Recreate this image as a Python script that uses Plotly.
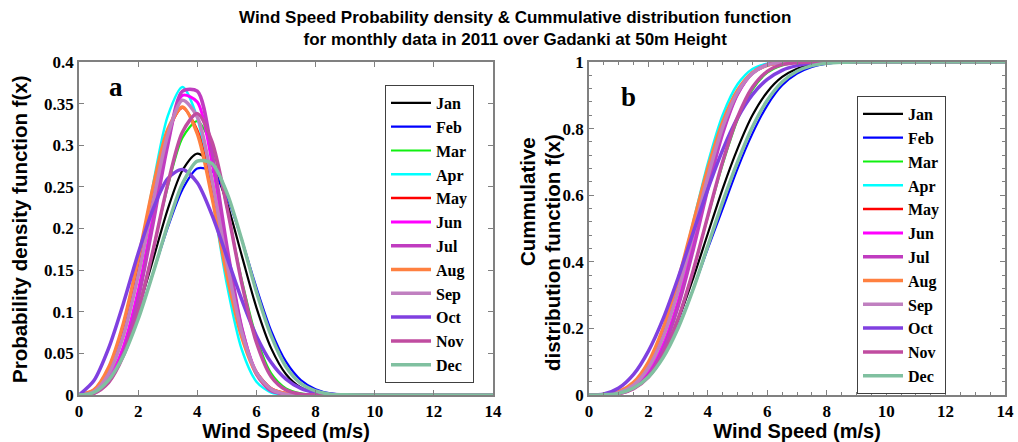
import plotly.graph_objects as go

wind_speed = [0, 0.5, 1, 1.5, 2, 2.5, 3, 3.5, 4, 4.5, 5, 5.5, 6, 6.5, 7, 7.5, 8, 8.5, 9, 14]
months = ["Jan", "Feb", "Mar", "Apr", "May", "Jun", "Jul", "Aug", "Sep", "Oct", "Nov", "Dec"]
colors = ["#000000", "#0000ff", "#10f010", "#00ffff", "#ff0000", "#ff00ff",
          "#c03cc0", "#ff8040", "#c080c0", "#8040e0", "#c04ca0", "#80c0a0"]
widths = [2.2, 2.2, 2.2, 2.5, 2.5, 3, 3.5, 3.5, 3.5, 3.5, 3.5, 3.5]

pdf_jan = [0, 0.004, 0.021, 0.054, 0.103, 0.162, 0.223, 0.270, 0.290, 0.276, 0.231, 0.168, 0.105, 0.056, 0.025, 0.009, 0.003, 0.001, 0.0001, 0]
pdf_feb = [0, 0.004, 0.020, 0.050, 0.093, 0.146, 0.201, 0.247, 0.272, 0.269, 0.238, 0.187, 0.129, 0.077, 0.040, 0.018, 0.007, 0.002, 0.0005, 0]
pdf_mar = [0, 0.003, 0.017, 0.049, 0.103, 0.174, 0.250, 0.309, 0.329, 0.298, 0.225, 0.139, 0.069, 0.026, 0.008, 0.002, 0.0002, 0, 0, 0]
pdf_apr = [0, 0.004, 0.027, 0.077, 0.156, 0.252, 0.335, 0.370, 0.333, 0.239, 0.133, 0.055, 0.016, 0.003, 0.0005, 0, 0, 0, 0, 0]
pdf_may = [0, 0.006, 0.031, 0.082, 0.157, 0.243, 0.315, 0.345, 0.318, 0.243, 0.150, 0.074, 0.028, 0.008, 0.002, 0.0002, 0, 0, 0, 0]
pdf_jun = [0, 0.003, 0.019, 0.058, 0.125, 0.214, 0.304, 0.360, 0.352, 0.279, 0.173, 0.081, 0.027, 0.006, 0.001, 0.0001, 0, 0, 0, 0]
pdf_jul = [0, 0.002, 0.016, 0.051, 0.115, 0.205, 0.300, 0.365, 0.365, 0.291, 0.179, 0.081, 0.025, 0.005, 0.001, 0, 0, 0, 0, 0]
pdf_aug = [0, 0.006, 0.033, 0.086, 0.163, 0.249, 0.319, 0.346, 0.314, 0.237, 0.144, 0.070, 0.026, 0.007, 0.002, 0.0002, 0, 0, 0, 0]
pdf_sep = [0, 0.004, 0.025, 0.071, 0.143, 0.231, 0.312, 0.354, 0.334, 0.258, 0.159, 0.076, 0.027, 0.007, 0.001, 0.0001, 0, 0, 0, 0]
pdf_oct = [0, 0.017, 0.056, 0.110, 0.170, 0.223, 0.260, 0.271, 0.255, 0.216, 0.166, 0.115, 0.071, 0.039, 0.019, 0.008, 0.003, 0.001, 0.0003, 0]
pdf_nov = [0, 0.002, 0.015, 0.047, 0.100, 0.173, 0.253, 0.316, 0.338, 0.304, 0.226, 0.135, 0.063, 0.022, 0.006, 0.001, 0.0001, 0, 0, 0]
pdf_dec = [0, 0.003, 0.018, 0.047, 0.091, 0.146, 0.204, 0.254, 0.281, 0.278, 0.243, 0.187, 0.124, 0.071, 0.034, 0.014, 0.005, 0.001, 0.0003, 0]

cdf_jan = [0, 0.001, 0.006, 0.024, 0.063, 0.129, 0.225, 0.349, 0.485, 0.620, 0.740, 0.840, 0.910, 0.955, 0.980, 0.993, 0.998, 1.0, 1.0, 1.0]
cdf_feb = [0, 0.001, 0.006, 0.023, 0.058, 0.117, 0.204, 0.317, 0.440, 0.560, 0.680, 0.785, 0.870, 0.930, 0.965, 0.985, 0.995, 0.999, 1.0, 1.0]
cdf_mar = [0, 0.0003, 0.005, 0.020, 0.057, 0.126, 0.232, 0.373, 0.535, 0.693, 0.826, 0.917, 0.968, 0.990, 0.998, 1.0, 1.0, 1.0, 1.0, 1.0]
cdf_apr = [0, 0.001, 0.007, 0.032, 0.089, 0.190, 0.338, 0.517, 0.696, 0.841, 0.933, 0.979, 0.995, 0.999, 1.0, 1.0, 1.0, 1.0, 1.0, 1.0]
cdf_may = [0, 0.001, 0.009, 0.036, 0.095, 0.195, 0.335, 0.503, 0.671, 0.813, 0.911, 0.966, 0.990, 0.998, 1.0, 1.0, 1.0, 1.0, 1.0, 1.0]
cdf_jun = [0, 0.0003, 0.005, 0.023, 0.068, 0.152, 0.282, 0.450, 0.631, 0.791, 0.904, 0.966, 0.991, 0.998, 1.0, 1.0, 1.0, 1.0, 1.0, 1.0]
cdf_jul = [0, 0.0003, 0.004, 0.020, 0.060, 0.139, 0.266, 0.434, 0.620, 0.786, 0.904, 0.967, 0.992, 0.999, 1.0, 1.0, 1.0, 1.0, 1.0, 1.0]
cdf_aug = [0, 0.001, 0.010, 0.038, 0.099, 0.202, 0.345, 0.514, 0.681, 0.820, 0.915, 0.968, 0.990, 0.998, 1.0, 1.0, 1.0, 1.0, 1.0, 1.0]
cdf_sep = [0, 0.001, 0.007, 0.030, 0.082, 0.175, 0.312, 0.480, 0.655, 0.805, 0.909, 0.966, 0.991, 0.998, 1.0, 1.0, 1.0, 1.0, 1.0, 1.0]
cdf_oct = [0, 0.003, 0.021, 0.062, 0.132, 0.230, 0.352, 0.486, 0.618, 0.736, 0.832, 0.902, 0.948, 0.975, 0.989, 0.996, 0.999, 1.0, 1.0, 1.0]
cdf_nov = [0, 0.0003, 0.004, 0.019, 0.054, 0.122, 0.229, 0.372, 0.538, 0.701, 0.834, 0.924, 0.972, 0.992, 0.998, 1.0, 1.0, 1.0, 1.0, 1.0]
cdf_dec = [0, 0.001, 0.005, 0.021, 0.054, 0.113, 0.201, 0.316, 0.448, 0.580, 0.700, 0.805, 0.885, 0.940, 0.972, 0.989, 0.996, 0.999, 1.0, 1.0]

pdfs = [pdf_jan, pdf_feb, pdf_mar, pdf_apr, pdf_may, pdf_jun, pdf_jul, pdf_aug, pdf_sep, pdf_oct, pdf_nov, pdf_dec]
cdfs = [cdf_jan, cdf_feb, cdf_mar, cdf_apr, cdf_may, cdf_jun, cdf_jul, cdf_aug, cdf_sep, cdf_oct, cdf_nov, cdf_dec]

pdf_ticks = [0, 0.05, 0.1, 0.15, 0.2, 0.25, 0.3, 0.35, 0.4]
pdf_ticklabels = ["0", "0.05", "0.1", "0.15", "0.2", "0.25", "0.3", "0.35", "0.4"]
cdf_ticks = [0, 0.2, 0.4, 0.6, 0.8, 1]
cdf_ticklabels = ["0", "0.2", "0.4", "0.6", "0.8", "1"]
x_ticks = [0, 2, 4, 6, 8, 10, 12, 14]

SERIF = "Liberation Serif"
SANS = "Liberation Sans"

fig = go.Figure()
for i, m in enumerate(months):
    fig.add_trace(go.Scatter(x=wind_speed, y=pdfs[i], name=m, mode="lines",
                             line=dict(color=colors[i], width=widths[i], shape="spline", smoothing=0.8),
                             xaxis="x", yaxis="y", legend="legend"))
for i, m in enumerate(months):
    fig.add_trace(go.Scatter(x=wind_speed, y=cdfs[i], name=m, mode="lines",
                             line=dict(color=colors[i], width=widths[i], shape="spline", smoothing=0.8),
                             xaxis="x2", yaxis="y2", legend="legend2"))

# body margin is removed by the post script, so the figure fills the 1018x442 window
W, H = 1018, 442
def fx(p): return p / W
def fy(p): return 1 - p / H

axis_common = dict(showline=True, linecolor="#808080", linewidth=1.5, mirror="ticks",
                   ticks="inside", ticklen=5, tickcolor="#808080", showgrid=False,
                   zeroline=False, automargin=False,
                   tickfont=dict(family=SERIF, size=17, color="black", weight="bold"))
xtitle_font = dict(family=SANS, size=20, color="black", weight="bold")
ytitle_font = dict(family=SANS, size=20.5, color="black", weight="bold")
legend_font = dict(family=SERIF, size=16, color="black", weight="bold")

fig.update_layout(
    width=W, height=H, margin=dict(l=0, r=0, t=0, b=0),
    paper_bgcolor="white", plot_bgcolor="white", showlegend=True,
    xaxis=dict(domain=[fx(79), fx(493)], range=[0, 14], tickvals=x_ticks, anchor="y",
               title=dict(text="Wind Speed (m/s)", font=xtitle_font, standoff=5), **axis_common),
    yaxis=dict(domain=[fy(395), fy(62)], range=[0, 0.4], tickvals=pdf_ticks, ticktext=pdf_ticklabels,
               anchor="x", **axis_common),
    xaxis2=dict(domain=[fx(589), fx(1005)], range=[0, 14], tickvals=x_ticks, anchor="y2",
                minor=dict(dtick=0.5, ticks="inside", ticklen=3, tickcolor="#808080"),
                title=dict(text="Wind Speed (m/s)", font=xtitle_font, standoff=5), **axis_common),
    yaxis2=dict(domain=[fy(395), fy(62)], range=[0, 1], tickvals=cdf_ticks, ticktext=cdf_ticklabels,
                anchor="x2", minor=dict(dtick=0.04, ticks="inside", ticklen=3, tickcolor="#808080"),
                **axis_common),
    legend=dict(x=fx(385), y=fy(85), xanchor="left", yanchor="top",
                bordercolor="#404040", borderwidth=1, bgcolor="white",
                font=legend_font, tracegroupgap=0, itemwidth=40),
    legend2=dict(x=fx(857), y=fy(96), xanchor="left", yanchor="top",
                 bordercolor="#404040", borderwidth=1, bgcolor="white",
                 font=legend_font, tracegroupgap=0, itemwidth=40),
    annotations=[
        dict(text="Wind Speed Probability density & Cummulative distribution function<br>for monthly data in 2011 over Gadanki at 50m Height",
             x=fx(515), y=fy(6), xref="paper", yref="paper", xanchor="center", yanchor="top",
             showarrow=False, font=dict(family=SANS, size=17, color="black", weight="bold")),
        dict(text="a", x=fx(116), y=fy(87), xref="paper", yref="paper", xanchor="center", yanchor="middle",
             showarrow=False, font=dict(family=SERIF, size=27, color="black", weight="bold")),
        dict(text="b", x=fx(628), y=fy(97), xref="paper", yref="paper", xanchor="center", yanchor="middle",
             showarrow=False, font=dict(family=SERIF, size=27, color="black", weight="bold")),
        dict(text="Probability density function f(x)", textangle=-90, x=fx(19), y=fy(229), xref="paper", yref="paper",
             xanchor="center", yanchor="middle", showarrow=False, font=ytitle_font),
        dict(text="Cummulative", textangle=-90, x=fx(528), y=fy(202), xref="paper", yref="paper",
             xanchor="center", yanchor="middle", showarrow=False, font=ytitle_font),
        dict(text="distribution function f(x)", textangle=-90, x=fx(553), y=fy(253), xref="paper", yref="paper",
             xanchor="center", yanchor="middle", showarrow=False, font=ytitle_font),
    ],
)

fig.write_html("out.html", config={"displayModeBar": False},
               post_script="document.body.style.margin='0';document.body.style.overflow='hidden';")
